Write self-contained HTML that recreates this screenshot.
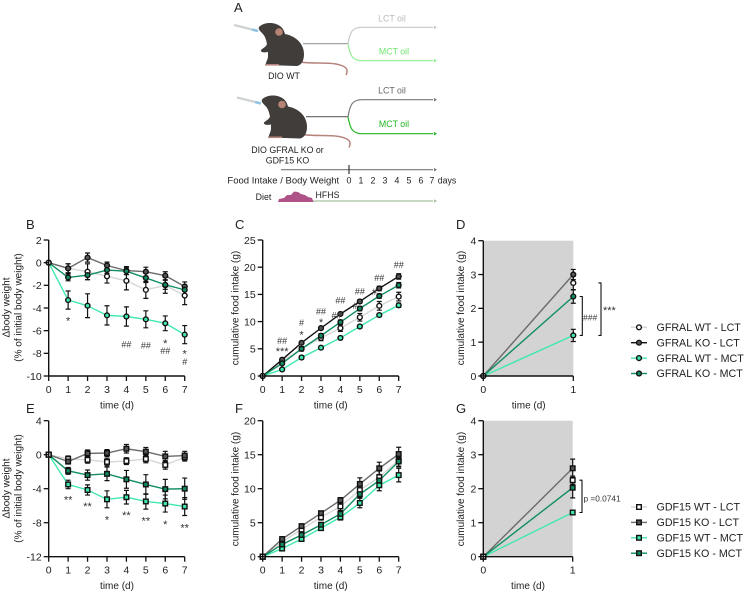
<!DOCTYPE html>
<html lang="en">
<head>
<meta charset="utf-8">
<title>Oil gavage body weight and food intake figure</title>
<style>
html,body{margin:0;padding:0;background:#fff;}
body{width:745px;height:592px;overflow:hidden;}
svg{display:block;font-family:"Liberation Sans",sans-serif;filter:blur(0.3px);}
text{fill:#222;}
</style>
</head>
<body>
<svg id="figure" width="745" height="592" viewBox="0 0 745 592" xmlns="http://www.w3.org/2000/svg">
  <g id="schematic">
    <text x="234" y="12" font-size="13">A</text>
    <g id="mouse-top">
      <path d="M300 62 C312 64 325 62 336 64 C346 66 349 69 346 75" fill="none" stroke="#b5857c" stroke-width="1.5"/>
      <path d="M234 25 L252 29.500" stroke="#cfd2d2" stroke-width="2.200"/>
      <path d="M252 29.500 L258 31" stroke="#8fc4e0" stroke-width="2.600"/>
      <path d="M259 27 C263 23 270 22 276 24 C282 26 284 30 285 34 C296 36 304 44 304 54 C304 60 302 65 297 66 L266 65 C265 63 268 60 268 56 L268 52 C264 53 260 52 261 50 C263 48 266 47 267 44 C266 39 265 36 262 33 C260 31 258 29 259 27 Z" fill="#403d3b"/>
      <circle cx="279" cy="32" r="3.800" fill="#b58474"/>
      <path d="M265 64.800 L279 64.800" stroke="#b5857c" stroke-width="1.600"/>
    </g>
    <g id="mouse-bottom" transform="translate(3 72.500)">
      <path d="M300 62 C312 64 325 62 336 64 C346 66 349 69 346 75" fill="none" stroke="#b5857c" stroke-width="1.5"/>
      <path d="M234 25 L252 29.500" stroke="#cfd2d2" stroke-width="2.200"/>
      <path d="M252 29.500 L258 31" stroke="#8fc4e0" stroke-width="2.600"/>
      <path d="M259 27 C263 23 270 22 276 24 C282 26 284 30 285 34 C296 36 304 44 304 54 C304 60 302 65 297 66 L266 65 C265 63 268 60 268 56 L268 52 C264 53 260 52 261 50 C263 48 266 47 267 44 C266 39 265 36 262 33 C260 31 258 29 259 27 Z" fill="#403d3b"/>
      <circle cx="279" cy="32" r="3.800" fill="#b58474"/>
      <path d="M265 64.800 L279 64.800" stroke="#b5857c" stroke-width="1.600"/>
    </g>
    <g fill="none" stroke-width="1.200">
      <path d="M303 43.700 H348" stroke="#999"/>
      <path d="M348 43.700 C350 32 352 27.300 362 27.300 H433" stroke="#c8c8c8"/>
      <path d="M348 43.700 C350 55 352 60.700 362 60.700 H433" stroke="#8fef8f"/>
      <path d="M306 116.700 H348" stroke="#666"/>
      <path d="M348 116.700 C350 105 352 99.700 362 99.700 H433" stroke="#777"/>
      <path d="M348 116.700 C350 128 352 133.700 362 133.700 H433" stroke="#22b522"/>
      <path d="M281 169.700 H433" stroke="#777"/>
      <path d="M349 165 V174" stroke="#333"/>
      <path d="M300 201 H433" stroke="#a8c0a0"/>
    </g>
    <path d="M434 25.500 L437 27.300 L434 29.100Z" fill="#c8c8c8"/>
    <path d="M434 58.900 L437 60.700 L434 62.500Z" fill="#8fef8f"/>
    <path d="M434 97.900 L437 99.700 L434 101.500Z" fill="#777"/>
    <path d="M434 131.900 L437 133.700 L434 135.500Z" fill="#22b522"/>
    <path d="M434 167.900 L437 169.700 L434 171.500Z" fill="#777"/>
    <path d="M434 199.200 L437 201 L434 202.800Z" fill="#a8c0a0"/>
    <path d="M278 202 L279 199 L284 198 L287 195 L291 195 L294 191.500 L298 192 L301 194 L305 195 L308 197 L312 198 L313.500 202 Z" fill="#ae5288"/>
    <g font-size="8.800" text-anchor="middle">
      <text x="392" y="21.700" style="fill:#bbb">LCT oil</text>
      <text x="394" y="54.700" style="fill:#6fe66f">MCT oil</text>
      <text x="392" y="93.500" style="fill:#666">LCT oil</text>
      <text x="394" y="127.200" style="fill:#22b522">MCT oil</text>
      <text x="284" y="79.200">DIO WT</text>
      <text x="287.500" y="153">DIO GFRAL KO or</text>
      <text x="287.500" y="163.500">GDF15 KO</text>
      <text x="283.300" y="183.500" font-size="9.500">Food Intake / Body Weight</text>
      <text x="349" y="183.500">0</text>
      <text x="361" y="183.500">1</text>
      <text x="373" y="183.500">2</text>
      <text x="385" y="183.500">3</text>
      <text x="397" y="183.500">4</text>
      <text x="409" y="183.500">5</text>
      <text x="421" y="183.500">6</text>
      <text x="432" y="183.500">7</text>
      <text x="447" y="183.500">days</text>
      <text x="263.500" y="200">Diet</text>
      <text x="327.500" y="198">HFHS</text>
    </g>
  </g>
  <g id="charts"></g>
</svg>
<script>
// ---------- shared categories ----------
const days = [0, 1, 2, 3, 4, 5, 6, 7];
const singleDay = [0, 1];
const gfralNames = ['GFRAL WT - LCT', 'GFRAL KO - LCT', 'GFRAL WT - MCT', 'GFRAL KO - MCT'];
const gdf15Names = ['GDF15 WT - LCT', 'GDF15 KO - LCT', 'GDF15 WT - MCT', 'GDF15 KO - MCT'];

// ---------- panel B ----------
const bTicks = [2, 0, -2, -4, -6, -8, -10];
const bWtLct = [0, -0.5, -0.8, -1.2, -1.6, -2.4, -2.0, -2.9];
const bWtLctErr = [0, 0.4, 0.7, 0.6, 0.8, 0.75, 0.7, 0.8];
const bKoLct = [0, -0.5, 0.45, -0.25, -0.7, -0.8, -1.15, -2.1];
const bKoLctErr = [0, 0.4, 0.4, 0.3, 0.35, 0.4, 0.35, 0.4];
const bWtMct = [0, -3.3, -3.8, -4.65, -4.75, -5.0, -5.35, -6.35];
const bWtMctErr = [0, 0.8, 1.05, 0.85, 0.85, 0.75, 0.65, 0.8];
const bKoMct = [0, -1.3, -1.1, -0.65, -0.75, -1.35, -1.95, -2.4];
const bKoMctErr = [0, 0.3, 0.4, 0.3, 0.3, 0.4, 0.4, 0.4];
const bNoteDays = [1, 4, 5, 6, 6, 7, 7];
const bNoteValues = [-4.9, -7.18, -7.3, -6.9, -7.77, -7.82, -8.76];
const bNoteLabels = ['*', '##', '##', '*', '##', '*', '#'];

// ---------- panel C ----------
const cTicks = [25, 20, 15, 10, 5, 0];
const cWtLct = [0, 2.7, 5.0, 7.0, 8.8, 10.8, 12.9, 14.6];
const cWtLctErr = [0, 0.2, 0.4, 0.5, 0.6, 0.7, 0.8, 0.8];
const cKoLct = [0, 3.0, 6.1, 8.8, 11.4, 13.7, 16.1, 18.3];
const cKoLctErr = [0, 0.2, 0.2, 0.2, 0.2, 0.3, 0.4, 0.5];
const cWtMct = [0, 1.2, 3.4, 5.2, 7.0, 9.1, 11.2, 13.0];
const cWtMctErr = [0, 0.2, 0.3, 0.3, 0.3, 0.3, 0.3, 0.4];
const cKoMct = [0, 2.3, 5.0, 7.4, 9.9, 12.4, 14.7, 16.7];
const cKoMctErr = [0, 0.2, 0.3, 0.4, 0.4, 0.4, 0.4, 0.5];
const cNoteDays = [1, 1, 2, 2, 3, 3, 4, 3.8, 5, 4.75, 6, 5.75, 7];
const cNoteValues = [6.5, 4.96, 9.8, 8.0, 11.95, 10.3, 13.9, 11.15, 15.6, 12.9, 18.1, 15.5, 20.5];
const cNoteLabels = ['##', '***', '#', '*', '##', '*', '##', '##', '##', '#', '##', '#', '##'];

// ---------- panel D ----------
const dTicks = [4, 3, 2, 1, 0];
const dWtLct = [0, 2.75];
const dWtLctErr = [0, 0.2];
const dKoLct = [0, 3.0];
const dKoLctErr = [0, 0.15];
const dWtMct = [0, 1.2];
const dWtMctErr = [0, 0.18];
const dKoMct = [0, 2.35];
const dKoMctErr = [0, 0.2];

// ---------- panel E ----------
const eTicks = [4, 0, -4, -8, -12];
const eWtLct = [0, -0.5, -0.6, -0.85, -0.75, -0.5, -1.2, -0.3];
const eWtLctErr = [0, 0.35, 0.4, 0.45, 0.4, 0.45, 0.5, 0.45];
const eKoLct = [0, -0.8, 0.15, 0.2, 0.7, 0.35, -0.2, -0.1];
const eKoLctErr = [0, 0.3, 0.4, 0.4, 0.5, 0.5, 0.6, 0.5];
const eWtMct = [0, -3.5, -4.15, -5.25, -5.0, -5.5, -5.75, -6.1];
const eWtMctErr = [0, 0.5, 0.6, 1.0, 0.8, 0.9, 1.0, 1.05];
const eKoMct = [0, -1.9, -2.4, -2.25, -2.9, -3.5, -4.05, -4.0];
const eKoMctErr = [0, 0.4, 0.6, 0.8, 1.05, 1.15, 1.15, 1.25];
const eNoteDays = [1, 2, 3, 4, 5, 6, 7];
const eNoteValues = [-5.0, -5.76, -7.36, -6.86, -7.48, -7.88, -8.3];
const eNoteLabels = ['**', '**', '*', '**', '**', '*', '**'];

// ---------- panel F ----------
const fTicks = [20, 15, 10, 5, 0];
const fWtLct = [0, 2.2, 4.0, 5.8, 7.4, 9.8, 11.7, 14.2];
const fWtLctErr = [0, 0.3, 0.4, 0.4, 0.6, 0.8, 0.9, 1.0];
const fKoLct = [0, 2.6, 4.5, 6.4, 8.3, 10.7, 13.0, 15.1];
const fKoLctErr = [0, 0.2, 0.3, 0.3, 0.4, 0.9, 0.9, 1.0];
const fWtMct = [0, 1.2, 2.6, 4.2, 5.8, 7.9, 10.5, 12.0];
const fWtMctErr = [0, 0.2, 0.3, 0.3, 0.4, 0.7, 0.8, 1.0];
const fKoMct = [0, 1.8, 3.2, 4.7, 6.3, 9.2, 11.2, 14.0];
const fKoMctErr = [0, 0.2, 0.2, 0.3, 0.4, 0.5, 0.6, 0.7];

// ---------- panel G ----------
const gTicks = [4, 3, 2, 1, 0];
const gWtLct = [0, 2.25];
const gWtLctErr = [0, 0.12];
const gKoLct = [0, 2.6];
const gKoLctErr = [0, 0.27];
const gWtMct = [0, 1.3];
const gWtMctErr = [0, 0.05];
const gKoMct = [0, 2.03];
const gKoMctErr = [0, 0.3];

// ---------- drawing ----------
const NS = 'http://www.w3.org/2000/svg';
const root = document.getElementById('charts');
const FILLS = ['#ffffff', '#555555', '#3fe9ac', '#0f8f5f'];
const LINES_GREY = ['#d6d6d6', '#6b6b6b', '#3fe9ac', '#0f8f5f'];
const LINES_DARK = ['#d6d6d6', '#111111', '#3fe9ac', '#0f8f5f'];
const KEYS = ['wt-lct', 'ko-lct', 'wt-mct', 'ko-mct'];

function mk(tag, attrs, parent, txt) {
  const el = document.createElementNS(NS, tag);
  for (const k in attrs) el.setAttribute(k, attrs[k]);
  if (txt !== undefined) el.textContent = txt;
  parent.appendChild(el);
  return el;
}

function drawMarker(parent, shape, x, y, fill, size) {
  let m;
  if (shape === 'circle') {
    m = mk('circle', { cx: x, cy: y, r: size, fill: fill, stroke: '#111', 'stroke-width': 1.4 }, parent);
  } else {
    m = mk('rect', { x: x - size, y: y - size, width: size * 2, height: size * 2, fill: fill, stroke: '#111', 'stroke-width': 1.4 }, parent);
  }
  
  
  return m;
}

function drawPanel(p) {
  const g = mk('g', {}, root);
  
  

  const xMax = p.cats[p.cats.length - 1];
  const xScale = function (v) { return p.left + v / xMax * (p.right - p.left); };
  const yMin = p.ticks[p.ticks.length - 1];
  const yMax = p.ticks[0];
  const yScale = function (v) { return p.bottom - (v - yMin) / (yMax - yMin) * (p.bottom - p.top); };

  if (p.shade) {
    const bg = mk('rect', { x: xScale(0), y: p.top, width: xScale(xMax) - xScale(0), height: p.bottom - p.top, fill: '#d3d3d3' }, g);
    
    
  }

  const label = mk('text', { x: p.labelX, y: p.labelY, 'font-size': 13 }, g, p.letter);
  
  

  // series lines, error bars, markers in draw order
  p.series.forEach(function (values, s) {
    const sg = mk('g', {}, g);
    
    
    const pts = values.map(function (v, i) { return xScale(p.cats[i]) + ',' + yScale(v); }).join(' ');
    const line = mk('polyline', { points: pts, fill: 'none', stroke: p.lineColors[s], 'stroke-width': 1.4 }, sg);
    
    
  });
  p.series.forEach(function (values, s) {
    values.forEach(function (v, i) {
      const e = p.errors[s][i];
      if (!e) return;
      const x = xScale(p.cats[i]);
      const path = 'M' + x + ' ' + yScale(v - e) + 'V' + yScale(v + e) +
        'M' + (x - 2.5) + ' ' + yScale(v - e) + 'h5M' + (x - 2.5) + ' ' + yScale(v + e) + 'h5';
      const bar = mk('path', { d: path, fill: 'none', stroke: '#111', 'stroke-width': 1.2 }, g);
      
      
    });
  });
  p.series.forEach(function (values, s) {
    values.forEach(function (v, i) {
      drawMarker(g, p.shape, xScale(p.cats[i]), yScale(v), i === 0 ? '#ffffff' : FILLS[s], p.shape === 'circle' ? 2.4 : 2.3);
    });
  });

  // axes
  const axisY = mk('path', { d: 'M' + p.left + ' ' + p.top + 'V' + (p.bottom + 0.7), stroke: '#111', 'stroke-width': 1.4, fill: 'none' }, g);
  
  
  const axisX = mk('path', { d: 'M' + p.left + ' ' + p.bottom + 'H' + p.right, stroke: '#111', 'stroke-width': 1.4, fill: 'none' }, g);
  
  

  p.ticks.forEach(function (t) {
    const y = yScale(t);
    const tick = mk('path', { d: 'M' + (p.left - 5) + ' ' + y + 'H' + p.left, stroke: '#111', 'stroke-width': 1.3 }, g);
    
    
    const tl = mk('text', { x: p.left - 7, y: y + 3.8, 'text-anchor': 'end', 'font-size': 10.5 }, g, String(t));
    
    
  });
  p.cats.forEach(function (c) {
    const x = xScale(c);
    const tick = mk('path', { d: 'M' + x + ' ' + p.bottom + 'V' + (p.bottom + 5), stroke: '#111', 'stroke-width': 1.3 }, g);
    
    
    const tl = mk('text', { x: x, y: p.bottom + 16.8, 'text-anchor': 'middle', 'font-size': 10.5 }, g, String(c));
    
    
  });

  const xt = mk('text', { x: p.xTitleX, y: p.bottom + 32.5, 'text-anchor': 'middle', 'font-size': 10 }, g, 'time (d)');
  
  

  p.yTitle.forEach(function (line, i) {
    const tx = p.yTitleX + i * 12;
    const yt = mk('text', { x: tx, y: p.yTitleY, 'text-anchor': 'middle', 'font-size': 10, transform: 'rotate(-90 ' + tx + ' ' + p.yTitleY + ')' }, g, line);
    
    
  });

  // significance notes, placed through the axis functions
  (p.noteDays || []).forEach(function (d, i) {
    const isStar = p.noteLabels[i].charAt(0) === '*';
    const n = mk('text', { x: xScale(d), y: yScale(p.noteValues[i]) + (isStar ? 6.2 : 3.3), 'text-anchor': 'middle', 'font-size': isStar ? 11 : 9 }, g, p.noteLabels[i]);
    n.style.fill = '#333';
    
    
  });

  // comparison brackets
  (p.brackets || []).forEach(function (b) {
    const y1 = yScale(b.high);
    const y2 = yScale(b.low);
    const br = mk('path', { d: 'M' + (b.x - 2.6) + ' ' + y1 + 'H' + b.x + 'V' + y2 + 'H' + (b.x - 2.6), fill: 'none', stroke: '#111', 'stroke-width': 1.1 }, g);
    
    
    const bt = mk('text', { x: b.tx, y: b.ty, 'font-size': b.size }, g, b.text);
    bt.style.fill = '#333';
    
    
  });

  // legend
  if (p.legend) {
    p.legend.forEach(function (name, i) {
      const y = p.legendTop + i * 15.4;
      const lg = mk('g', {}, g);
      
      
      const sw = mk('path', { d: 'M631 ' + y + 'H647', stroke: LINES_GREY[i], 'stroke-width': 1.4 }, lg);
      
      
      if (i === 1) sw.setAttribute('stroke', p.shape === 'circle' ? '#111' : '#6b6b6b');
      drawMarker(lg, p.shape, 639, y, FILLS[i], p.shape === 'circle' ? 2.4 : 2.3);
      const lt = mk('text', { x: 656.5, y: y + 3.7, 'font-size': 10.7 }, lg, name);
      
      
    });
  }
}

const panelList = [
  { letter: 'B', labelX: 26, labelY: 229, left: 48.7, right: 184.7, top: 240, bottom: 376, cats: days, ticks: bTicks,
    series: [bWtLct, bKoLct, bWtMct, bKoMct], errors: [bWtLctErr, bKoLctErr, bWtMctErr, bKoMctErr],
    lineColors: LINES_GREY, shape: 'circle', xTitleX: 117, yTitle: ['Δbody weight', '(% of initial body weight)'], yTitleX: 9.5, yTitleY: 307.5,
    noteDays: bNoteDays, noteValues: bNoteValues, noteLabels: bNoteLabels },
  { letter: 'C', labelX: 235, labelY: 229, left: 262.7, right: 398.7, top: 240, bottom: 376, cats: days, ticks: cTicks,
    series: [cWtLct, cKoLct, cWtMct, cKoMct], errors: [cWtLctErr, cKoLctErr, cWtMctErr, cKoMctErr],
    lineColors: LINES_DARK, shape: 'circle', xTitleX: 330.7, yTitle: ['cumulative food intake (g)'], yTitleX: 238.5, yTitleY: 308,
    noteDays: cNoteDays, noteValues: cNoteValues, noteLabels: cNoteLabels },
  { letter: 'D', labelX: 456, labelY: 229, left: 483.3, right: 573.3, top: 240.7, bottom: 376, cats: singleDay, ticks: dTicks, shade: true,
    series: [dWtLct, dKoLct, dWtMct, dKoMct], errors: [dWtLctErr, dKoLctErr, dWtMctErr, dKoMctErr],
    lineColors: LINES_GREY, shape: 'circle', xTitleX: 528.7, yTitle: ['cumulative food intake (g)'], yTitleX: 464, yTitleY: 308,
    brackets: [
      { x: 582.3, high: dKoMct[1], low: dWtMct[1], tx: 583, ty: 320.5, text: '###', size: 8.5 },
      { x: 601, high: dWtLct[1], low: dWtMct[1], tx: 603, ty: 314, text: '***', size: 11 }
    ],
    legend: gfralNames, legendTop: 327.3 },
  { letter: 'E', labelX: 26, labelY: 413, left: 48.7, right: 184.7, top: 420.7, bottom: 556.7, cats: days, ticks: eTicks,
    series: [eWtLct, eKoLct, eWtMct, eKoMct], errors: [eWtLctErr, eKoLctErr, eWtMctErr, eKoMctErr],
    lineColors: LINES_GREY, shape: 'square', xTitleX: 117, yTitle: ['Δbody weight', '(% of initial body weight)'], yTitleX: 9.5, yTitleY: 488.5,
    noteDays: eNoteDays, noteValues: eNoteValues, noteLabels: eNoteLabels },
  { letter: 'F', labelX: 235, labelY: 413, left: 262.7, right: 398.7, top: 420.7, bottom: 556.7, cats: days, ticks: fTicks,
    series: [fWtLct, fKoLct, fWtMct, fKoMct], errors: [fWtLctErr, fKoLctErr, fWtMctErr, fKoMctErr],
    lineColors: LINES_GREY, shape: 'square', xTitleX: 330.7, yTitle: ['cumulative food intake (g)'], yTitleX: 238.5, yTitleY: 489 },
  { letter: 'G', labelX: 456, labelY: 413, left: 483.3, right: 572.7, top: 420.7, bottom: 556.7, cats: singleDay, ticks: gTicks, shade: true,
    series: [gWtLct, gKoLct, gWtMct, gKoMct], errors: [gWtLctErr, gKoLctErr, gWtMctErr, gKoMctErr],
    lineColors: LINES_GREY, shape: 'square', xTitleX: 528, yTitle: ['cumulative food intake (g)'], yTitleX: 464, yTitleY: 489,
    brackets: [
      { x: 582, high: gWtLct[1], low: gWtMct[1], tx: 583.5, ty: 501.7, text: 'p =0.0741', size: 8.3 }
    ],
    legend: gdf15Names, legendTop: 507 }
];

panelList.forEach(drawPanel);
</script>
</body>
</html>
